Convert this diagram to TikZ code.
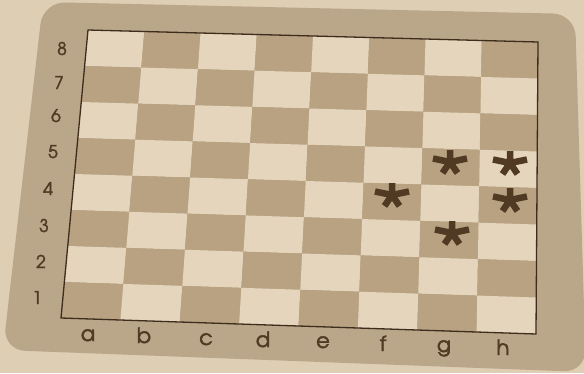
\documentclass[tikz,border=0pt]{standalone}
\usepackage{fontspec}
\newfontfamily\labfont{texgyreadventor-regular.otf}[FakeBold=2]
\usetikzlibrary{calc}
\definecolor{paper}{RGB}{222,206,180}
\definecolor{framecol}{RGB}{186,166,136}
\definecolor{lightsq}{RGB}{228,213,188}
\definecolor{darksq}{RGB}{184,162,130}
\definecolor{ink}{RGB}{80,58,36}
\definecolor{edgecol}{RGB}{62,44,28}
\tikzset{
  numlab/.style={anchor=base, inner sep=0pt, text=ink, font=\labfont\fontsize{17.5}{17.5}\selectfont},
  letlab/.style={anchor=base, inner sep=0pt, text=ink, font=\labfont\fontsize{21}{21}\selectfont},
  asterline/.style={draw=ink, line width=6.5pt, line cap=butt},
  aster/.pic={\draw[asterline] (0,0) -- (0,-12) (0,0) -- (-17,-3.5) (0,0) -- (17,-3.5) (0,0) -- (-7.5,11) (0,0) -- (7.5,11);}
}
\begin{document}
\begin{tikzpicture}[x=1pt,y=-1pt]
\useasboundingbox (0,0) rectangle (584,373);
\fill[paper] (0,0) rectangle (584,373);
\fill[framecol, rounded corners=22pt] (43,2) -- (575,14) -- (586,372) -- (3,350) -- cycle;
% board corners
\coordinate (TL) at (88,30);
\coordinate (TR) at (538,42);
\coordinate (BL) at (61,318);
\coordinate (BR) at (536,334);
\foreach \i in {0,...,8} {
  \path ($(TL)!\i/8!(TR)$) coordinate (T\i);
  \path ($(BL)!\i/8!(BR)$) coordinate (B\i);
  \foreach \j in {0,...,8} {
    \path ($(T\i)!\j/8!(B\i)$) coordinate (P\i-\j);
  }
}
\foreach \i in {0,...,7} {
  \foreach \j in {0,...,7} {
    \pgfmathtruncatemacro\ii{\i+1}
    \pgfmathtruncatemacro\jj{\j+1}
    \pgfmathtruncatemacro\pp{mod(\i+\j,2)}
    \ifnum\pp=1
      \fill[darksq] (P\i-\j) -- (P\ii-\j) -- (P\ii-\jj) -- (P\i-\jj) -- cycle;
    \else
      \fill[lightsq] (P\i-\j) -- (P\ii-\j) -- (P\ii-\jj) -- (P\i-\jj) -- cycle;
    \fi
  }
}
\draw[edgecol, line width=1.3pt] (TL) -- (TR) -- (BR) -- (BL) -- cycle;
% rank labels
\node[numlab] (r8) at (62,55) {8};
\node[numlab] (r7) at (59,89) {7};
\node[numlab] (r6) at (56,122) {6};
\node[numlab] (r5) at (53,158) {5};
\node[numlab] (r4) at (48,195) {4};
\node[numlab] (r3) at (44,232) {3};
\node[numlab] (r2) at (41,268) {2};
\node[numlab] (r1) at (37,304) {1};
% file labels
\node[letlab] (fa) at (88,341) {a};
\node[letlab] (fb) at (144,343) {b};
\node[letlab] (fc) at (206,345) {c};
\node[letlab] (fd) at (263,347) {d};
\node[letlab] (fe) at (323,348) {e};
\node[letlab] (ff) at (383,351) {f};
\node[letlab] (fg) at (444,352) {g};
\node[letlab] (fh) at (503,355) {h};
% asterisks
\pic at (450,162) {aster};
\pic at (510,163) {aster};
\pic at (392,195) {aster};
\pic at (510,200) {aster};
\pic at (452,233) {aster};
\end{tikzpicture}
\end{document}
